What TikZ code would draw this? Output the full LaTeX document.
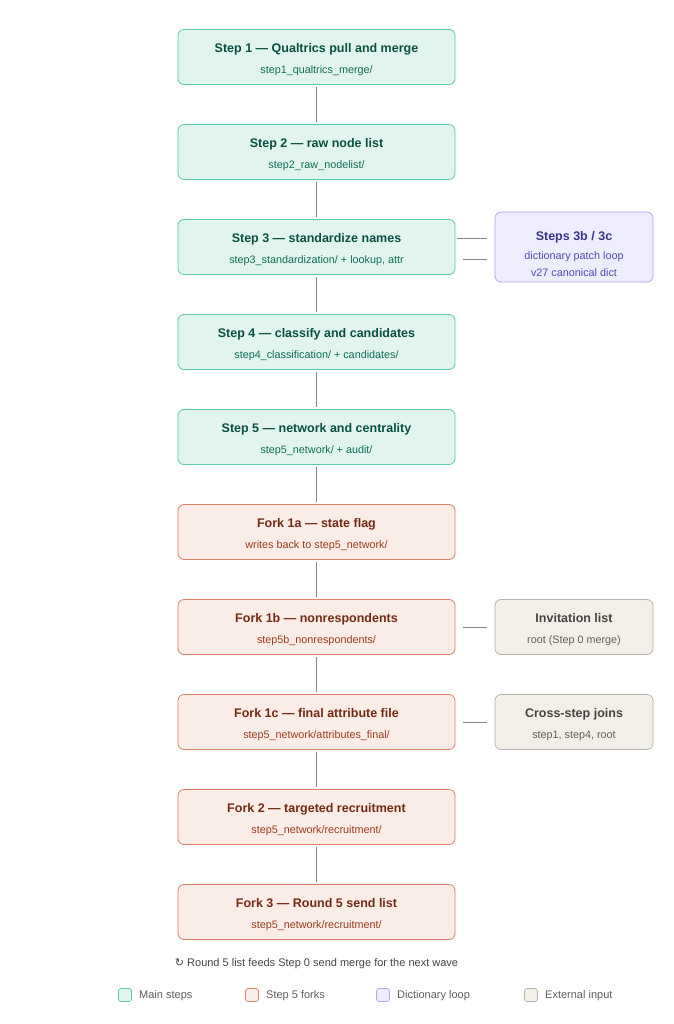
\documentclass[tikz,border=0pt]{standalone}
\usepackage{fontspec}
\setmainfont{Liberation Sans}
\newfontfamily\symfont{DejaVu Sans}
\definecolor{gfill}{HTML}{E1F5EE}\definecolor{gdraw}{HTML}{5DCAA5}
\definecolor{gtitle}{HTML}{085041}\definecolor{gsub}{HTML}{0F6E56}
\definecolor{cfill}{HTML}{FAECE7}\definecolor{cdraw}{HTML}{D8826A}
\definecolor{ctitle}{HTML}{712B13}\definecolor{csub}{HTML}{993C1D}
\definecolor{pfill}{HTML}{EEEDFE}\definecolor{pdraw}{HTML}{AFA9EC}
\definecolor{ptitle}{HTML}{3C3489}\definecolor{psub}{HTML}{534AB7}
\definecolor{xfill}{HTML}{F1EFE8}\definecolor{xdraw}{HTML}{B4B2A9}
\definecolor{xtitle}{HTML}{444441}\definecolor{xsub}{HTML}{5F5E5A}
\definecolor{conn}{HTML}{888780}
\tikzset{
  x=1pt,y=-1pt,
  box/.style={rounded corners=6pt,line width=0.8pt,minimum height=55pt,inner sep=0pt,align=center},
  mainbox/.style={box,minimum width=277pt},
  sidebox/.style={box,minimum width=158pt},
  green/.style={fill=gfill,draw=gdraw},
  coral/.style={fill=cfill,draw=cdraw},
  purple/.style={fill=pfill,draw=pdraw},
  grey/.style={fill=xfill,draw=xdraw},
  link/.style={draw=conn,line width=0.9pt},
  legsq/.style={rounded corners=2.5pt,line width=0.7pt,minimum size=13pt,inner sep=0pt},
  legtxt/.style={anchor=west,font=\fontsize{11}{13}\selectfont,text=xsub,inner sep=0pt}
}
\newcommand{\mytitleline}[3][14pt]{\rule{0pt}{#1}\fontsize{12.5}{16}\selectfont\bfseries\color{#2}#3}
\newcommand{\mysubline}[2]{\fontsize{10.8}{13}\selectfont\mdseries\color{#1}#2}
\newcommand{\boxtext}[4]{\mytitleline{#1}{#2}\\[9pt]\mysubline{#3}{#4}}
\begin{document}
\begin{tikzpicture}
\useasboundingbox[fill=white] (0,0) rectangle (673,1024);
\node[mainbox,green] (s1) at (316.5,57) {\boxtext{gtitle}{Step 1 — Qualtrics pull and merge}{gsub}{step1\_qualtrics\_merge/}};
\node[mainbox,green] (s2) at (316.5,152) {\boxtext{gtitle}{Step 2 — raw node list}{gsub}{step2\_raw\_nodelist/}};
\node[mainbox,green] (s3) at (316.5,247) {\boxtext{gtitle}{Step 3 — standardize names}{gsub}{step3\_standardization/ + lookup, attr}};
\node[mainbox,green] (s4) at (316.5,342) {\boxtext{gtitle}{Step 4 — classify and candidates}{gsub}{step4\_classification/ + candidates/}};
\node[mainbox,green] (s5) at (316.5,437) {\boxtext{gtitle}{Step 5 — network and centrality}{gsub}{step5\_network/ + audit/}};
\node[mainbox,coral] (f1a) at (316.5,532) {\boxtext{ctitle}{Fork 1a — state flag}{csub}{writes back to step5\_network/}};
\node[mainbox,coral] (f1b) at (316.5,627) {\boxtext{ctitle}{Fork 1b — nonrespondents}{csub}{step5b\_nonrespondents/}};
\node[mainbox,coral] (f1c) at (316.5,722) {\boxtext{ctitle}{Fork 1c — final attribute file}{csub}{step5\_network/attributes\_final/}};
\node[mainbox,coral] (f2) at (316.5,817) {\boxtext{ctitle}{Fork 2 — targeted recruitment}{csub}{step5\_network/recruitment/}};
\node[mainbox,coral] (f3) at (316.5,912) {\boxtext{ctitle}{Fork 3 — Round 5 send list}{csub}{step5\_network/recruitment/}};
\node[sidebox,purple,minimum height=70pt] (s3b) at (574,247) {\mytitleline[24pt]{ptitle}{Steps 3b / 3c}\\[7pt]\mysubline{psub}{dictionary patch loop}\\[5pt]\mysubline{psub}{v27 canonical dict}};
\node[sidebox,grey] (inv) at (574,627) {\boxtext{xtitle}{Invitation list}{xsub}{root (Step 0 merge)}};
\node[sidebox,grey] (csj) at (574,722) {\boxtext{xtitle}{Cross-step joins}{xsub}{step1, step4, root}};
\foreach \a/\b in {s1/s2,s2/s3,s3/s4,s4/s5,s5/f1a,f1a/f1b,f1b/f1c,f1c/f2,f2/f3}
  \draw[link] ([yshift=-2pt]\a.south) -- ([yshift=2pt]\b.north);
\coordinate (a1) at (457,238); \coordinate (a2) at (487,238);
\coordinate (b1) at (463,259); \coordinate (b2) at (487,259);
\draw[link] (a1) -- (a2);
\draw[link] (b1) -- (b2);
\draw[link] ([xshift=8pt]f1b.east) -- ([xshift=-8pt]inv.west);
\draw[link] ([xshift=8pt]f1c.east) -- ([xshift=-8pt]csj.west);
\node[font=\fontsize{11}{13}\selectfont,text=xtitle] (cap) at (316.5,964) {{\symfont ↻} Round 5 list feeds Step 0 send merge for the next wave};
\node[legsq,fill=gfill,draw=gdraw] (l1) at (125,995) {};
\node[legtxt] (l1t) at (139,996) {Main steps};
\node[legsq,fill=cfill,draw=cdraw] (l2) at (252,995) {};
\node[legtxt] (l2t) at (266,996) {Step 5 forks};
\node[legsq,fill=pfill,draw=pdraw] (l3) at (383,995) {};
\node[legtxt] (l3t) at (397,996) {Dictionary loop};
\node[legsq,fill=xfill,draw=xdraw] (l4) at (531,995) {};
\node[legtxt] (l4t) at (545,996) {External input};
\end{tikzpicture}
\end{document}
